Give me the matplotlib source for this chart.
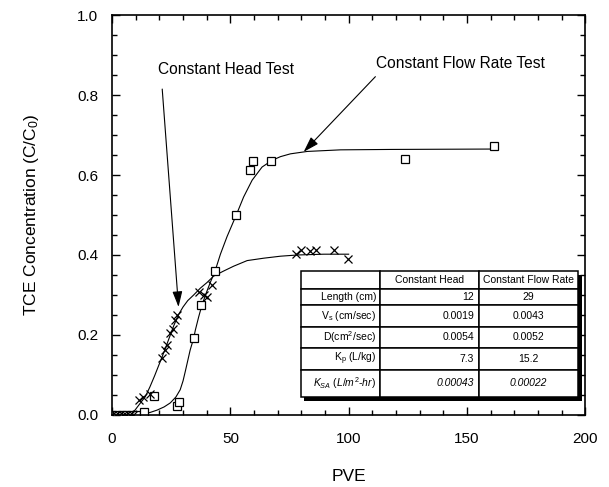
import numpy as np
import matplotlib.pyplot as plt
from matplotlib.patches import Rectangle

plt.rcParams['font.family'] = ['Liberation Sans', 'DejaVu Sans']
plt.rcParams['mathtext.fontset'] = 'custom'
plt.rcParams['mathtext.rm'] = 'Liberation Sans'
plt.rcParams['mathtext.it'] = 'Liberation Sans:italic'

# measured breakthrough data, constant flow rate test (squares)
flow_pve = [0, 2, 4, 6, 8, 10, 13.4, 17.8, 27.3, 28.2, 34.5, 37.7, 43.6,
            52.5, 58.2, 59.6, 67.2, 124.0, 161.5]
flow_conc = [0, 0, 0, 0, 0, 0, 0.008, 0.047, 0.022, 0.033, 0.192, 0.275, 0.36,
             0.50, 0.6125, 0.635, 0.635, 0.64, 0.673]

# measured breakthrough data, constant head test (crosses)
head_pve = [0, 1.5, 3, 4.5, 6, 7.5, 9, 11.5, 13.1, 15.9, 21.0, 22.2, 23.4,
            24.6, 25.7, 26.7, 27.4, 36.6, 38.7, 40.1, 42.2, 77.7, 79.7, 83.8,
            86.2, 93.6, 99.8]
head_conc = [0, 0, 0, 0, 0, 0, 0, 0.037, 0.046, 0.052, 0.142, 0.1625, 0.175,
             0.204, 0.215, 0.2375, 0.25, 0.308, 0.30, 0.296, 0.325, 0.402,
             0.413, 0.41, 0.413, 0.413, 0.391]

# fitted model curves
flow_fit_pve = [8, 12, 16, 19, 22, 24.6, 27, 28.8, 30, 31, 32, 33, 34.5, 35.2,
                36.6, 38, 40, 41.5, 43.6, 45.8, 48.6, 52.5, 55.6, 59.2, 63.4,
                67.7, 71.2, 75.4, 82.5, 96.6, 117.8, 162]
flow_fit_conc = [0, 0.002, 0.006, 0.012, 0.02, 0.03, 0.045, 0.063, 0.085, 0.11,
                 0.136, 0.162, 0.192, 0.212, 0.245, 0.275, 0.308, 0.331, 0.361,
                 0.402, 0.446, 0.50, 0.545, 0.587, 0.62, 0.637, 0.646, 0.653,
                 0.659, 0.663, 0.664, 0.665]

head_fit_pve = [6.5, 9.7, 12, 14, 16, 18, 20, 22, 24, 26, 28, 30, 32, 34.5,
                37.3, 40.1, 42.9, 47.2, 51.4, 57.1, 64.1, 71.2, 78.3, 89.5, 100]
head_fit_conc = [0, 0.012, 0.03, 0.045, 0.07, 0.098, 0.128, 0.158, 0.19, 0.222,
                 0.25, 0.27, 0.286, 0.30, 0.317, 0.331, 0.347, 0.36, 0.372,
                 0.386, 0.392, 0.397, 0.40, 0.402, 0.402]

# fitted parameters shown in the inset table
param_names = ["", "Length (cm)", r"V$_\mathrm{s}$ (cm/sec)", r"D(cm$^\mathrm{2}$/sec)",
               r"K$_\mathrm{p}$ (L/kg)", r"$K_{SA}$ ($L/m^2$-$hr$)"]
head_params = ["Constant Head", "12", "0.0019", "0.0054", "7.3", "0.00043"]
flow_params = ["Constant Flow Rate", "29", "0.0043", "0.0052", "15.2", "0.00022"]

fig = plt.figure(figsize=(6.09, 4.87), dpi=100)
ax = fig.add_axes([0.184, 0.148, 0.777, 0.821])

ax.plot(flow_fit_pve, flow_fit_conc, color='black', lw=0.8)
ax.plot(head_fit_pve, head_fit_conc, color='black', lw=0.8)
ax.plot(flow_pve, flow_conc, 's', ms=5.5, mfc='white', mec='black', mew=0.9)
ax.plot(head_pve, head_conc, 'x', ms=6, color='black', mew=0.9)

ax.set_xlim(0, 200)
ax.set_ylim(0, 1.0)
ax.set_xticks([0, 50, 100, 150, 200])
ax.set_xticks(np.arange(0, 201, 10), minor=True)
ax.set_yticks(np.arange(0, 1.01, 0.2))
ax.set_yticks(np.arange(0, 1.01, 0.05), minor=True)
ax.yaxis.set_major_formatter(plt.FormatStrFormatter('%.1f'))
ax.tick_params(which='both', direction='in', top=True, right=True, width=1.0)
ax.tick_params(which='major', length=6, labelsize=11)
ax.tick_params(axis='x', which='major', pad=12)
ax.tick_params(axis='y', which='major', pad=10)
ax.tick_params(which='minor', length=3.5)
for sp in ax.spines.values():
    sp.set_linewidth(1.2)

ax.set_xlabel("PVE", fontsize=12.5, labelpad=17)
ax.set_ylabel(r"TCE Concentration (C/C$_\mathrm{0}$)", fontsize=12.5, labelpad=26)

# arrows pointing at each curve
arrow_style = dict(arrowstyle='-|>,head_length=0.95,head_width=0.3', color='black',
                   lw=0.8, mutation_scale=10, shrinkA=0, shrinkB=0)
ax.annotate("", xy=(28.1, 0.27), xytext=(21.2, 0.815), arrowprops=arrow_style)
ax.annotate("", xy=(81.0, 0.658), xytext=(111.3, 0.846), arrowprops=arrow_style)
ax.text(19.5, 0.865, "Constant Head Test", fontsize=11.2, va='center', ha='left')
ax.text(111.4, 0.88, "Constant Flow Rate Test", fontsize=11.2, va='center', ha='left')

# parameter table with a drop shadow
cell_text = [[n, h, f] for n, h, f in zip(param_names, head_params, flow_params)]
tx0, ty0, tw, th = 0.3996, 0.045, 0.5855, 0.315
shadow = Rectangle((tx0 + 0.007, ty0 - 0.009), tw, th, transform=ax.transAxes,
                   facecolor='black', edgecolor='none', zorder=4)
ax.add_patch(shadow)
tbl = ax.table(cellText=cell_text, cellLoc='center', bbox=[tx0, ty0, tw, th])
tbl.set_zorder(5)
tbl.auto_set_font_size(False)
tbl.set_fontsize(7.5)
row_h = [18, 17, 22, 22, 22, 28]
col_w = [79, 99, 99]
for (r, c), cell in tbl.get_celld().items():
    cell.set_height(row_h[r])
    cell.set_width(col_w[c])
    cell.set_linewidth(1.1)
    cell.set_edgecolor('black')
    if c == 0 or (c == 1 and r > 0):
        cell._loc = 'right'
        cell.PAD = 0.05
        cell.get_text().set_horizontalalignment('right')
    if r == 5 and c > 0:
        cell.get_text().set_fontstyle('italic')

fig.savefig('out.png', dpi=100)
